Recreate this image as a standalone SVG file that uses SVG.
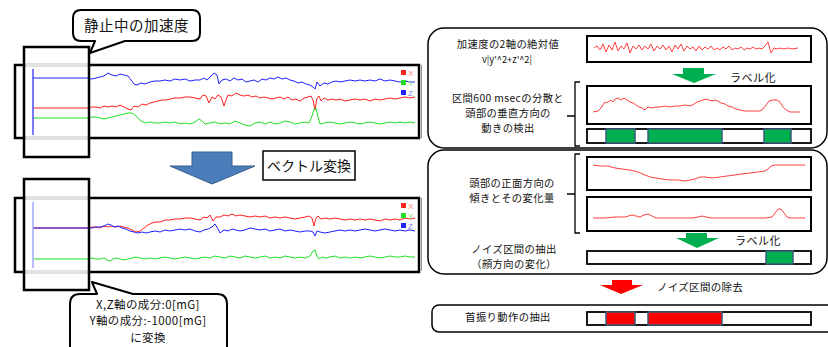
<svg xmlns="http://www.w3.org/2000/svg" width="828" height="347" viewBox="0 0 828 347">
<style>
text{font-family:"Noto Sans CJK JP","Liberation Sans",sans-serif;fill:#111}
.box{fill:#fff;stroke:#000;stroke-width:2.5}
.frame{fill:none;stroke:#000;stroke-width:2.5}
.call{fill:#fff;stroke:#000;stroke-width:2;stroke-linejoin:round}
.grp{fill:#fff;stroke:#000;stroke-width:1.5}
.cb{fill:#fff;stroke:#000;stroke-width:2}
.bar{fill:#fff;stroke:#000;stroke-width:1.8}
.tr{fill:none;stroke-width:1;stroke-linejoin:round}
.r{stroke:#ff2020}.g{stroke:#20e020}.b{stroke:#2020ff}
.rr{fill:none;stroke:#ff4040;stroke-width:1}
.seg{stroke:#3b5a7a;stroke-width:1.5}
.brace{fill:none;stroke:#000;stroke-width:1.3}
.lg{font-family:"Liberation Sans",sans-serif;font-size:8px}
.s{font-size:10.3px;letter-spacing:0.4px}
.cl{font-size:11.5px;letter-spacing:0.4px}
</style>

<g id="chart-top">
<rect x="15" y="65" width="404" height="73" class="box"/>
<polyline class="tr b" points="33,78 88,78 92,79 96,78 100,77 104,76 108,73 112,75 116,76 120,74 124,75 128,76 131,80 134,84 137,85 141,83 145,84 150,82 155,81 160,81 165,80 170,81 175,79 180,80 185,79 190,81 195,80 200,80 204,78 207,80 210,77 214,73 217,75 219,84 222,80 226,79 230,81 234,78 238,80 242,79 246,82 250,81 254,80 258,82 262,79 266,80 270,78 274,79 278,77 282,79 286,78 290,80 294,81 298,83 302,82 306,84 310,85 313,87 315,89 317,82 320,86 324,83 328,84 332,82 336,81 340,82 345,81 350,80 355,81 360,80 365,81 370,80 375,81 380,79 385,81 390,80 395,81 400,82 405,81 410,82 415,82"/>
<polyline class="tr r" points="33,108 88,108 92,107 96,107 100,108 104,106 108,107 112,106 116,107 120,105 124,107 128,109 131,110 134,106 138,107 142,104 146,105 150,103 154,102 158,101 162,100 166,100 170,99 175,98 180,98 185,97 190,97 195,98 200,99 203,95 206,96 209,103 212,97 215,99 218,95 221,97 224,106 226,100 228,95 232,96 236,93 240,95 244,96 248,95 252,97 256,96 260,98 264,97 268,98 272,99 276,98 280,97 284,99 288,97 292,100 296,99 300,101 304,98 308,97 311,96 313,100 315,110 317,98 319,96 321,101 324,98 328,100 332,99 336,100 340,99 345,101 350,100 355,99 360,100 365,99 370,101 375,99 380,100 385,99 390,98 395,99 400,98 405,97 410,98 415,97"/>
<polyline class="tr g" points="33,118 88,118 92,117 96,117 100,118 104,119 108,118 112,117 116,116 120,115 124,114 128,113 132,113 135,115 138,118 141,121 145,123 150,122 155,123 160,123 165,122 170,123 175,122 180,124 185,123 190,124 195,122 199,119 202,121 205,124 210,123 215,122 220,124 225,123 230,124 235,121 240,123 245,125 250,126 255,123 260,122 265,124 270,122 275,124 280,123 285,121 290,122 295,124 300,123 305,122 309,123 312,116 314,109 316,108 318,117 320,124 325,123 330,122 335,123 340,124 345,123 350,122 355,123 360,124 365,123 370,122 375,123 380,124 385,123 390,122 395,123 400,122 405,123 410,122 415,123"/>
<line x1="33" y1="69" x2="33" y2="135" stroke="#2020ff" stroke-width="1.2"/>
<rect x="401" y="70" width="5" height="5" fill="#ff2020"/><text x="408" y="75.5" class="lg" style="fill:#ff8080">X</text>
<rect x="401" y="80" width="5" height="5" fill="#20e020"/><text x="408" y="85.5" class="lg" style="fill:#80e080">Y</text>
<rect x="401" y="90" width="5" height="5" fill="#2020ff"/><text x="408" y="95.5" class="lg" style="fill:#8080ff">Z</text>
</g>

<g id="window-top">
<rect x="24" y="47" width="65" height="110" class="frame"/>
<line x1="25.5" y1="65" x2="87.5" y2="65" stroke="#fff" stroke-width="3"/>
<line x1="25.5" y1="65" x2="87.5" y2="65" stroke="#c8c8c8" stroke-width="1"/>
<line x1="25.5" y1="138" x2="87.5" y2="138" stroke="#fff" stroke-width="3"/>
<line x1="25.5" y1="138" x2="87.5" y2="138" stroke="#c8c8c8" stroke-width="1"/>
</g>

<g id="callout-top">
<path class="call" d="M81,10 H192 Q200,10 200,18 V33 Q200,41 192,41 H125 L90,53 L95,41 H81 Q73,41 73,33 V18 Q73,10 81,10 Z"/>
<text x="136.5" y="31" font-size="14.5" text-anchor="middle" letter-spacing="0.5">静止中の加速度</text>
</g>

<g id="arrow-vector">
<polygon points="192,152 232,152 232,166 255,166 212,184 170,166 192,166" fill="#4a7ebb" stroke="#385d8a" stroke-width="1"/>
</g>
<g id="label-vector">
<rect x="263" y="151" width="92" height="29" fill="#fff" stroke="#000" stroke-width="1.5"/>
<text x="309" y="170.5" font-size="14" text-anchor="middle">ベクトル変換</text>
</g>

<g id="chart-bottom">
<rect x="15" y="198" width="404" height="74" class="box"/>
<polyline class="tr r" points="33,228 88,228 92,227 96,227 100,228 104,226 108,227 112,226 116,227 120,226 124,227 128,228 132,230 136,232 140,231 144,228 148,225 152,223 156,222 160,222 165,220 170,220 175,219 180,219 185,218 190,218 195,219 200,220 204,217 207,218 210,215 213,221 216,217 220,217 224,215 228,216 232,214 236,216 240,215 245,216 250,217 255,216 260,217 265,216 270,218 275,217 280,218 285,217 290,218 295,219 300,218 305,217 309,216 312,218 314,226 316,218 318,216 321,219 325,218 330,219 335,218 340,219 345,220 350,219 355,220 360,219 365,220 370,219 375,220 380,221 385,219 390,220 395,219 400,220 405,218 410,219 415,218"/>
<polyline class="tr b" points="33,228 88,228 92,228 96,227 100,227 104,226 108,224 111,225 114,227 118,226 122,228 126,229 130,231 134,232 138,233 142,232 146,233 150,232 155,231 160,232 165,230 170,231 175,230 180,229 185,230 190,229 195,231 200,232 204,230 208,229 212,227 215,224 218,229 220,233 224,230 228,231 232,229 236,230 240,231 245,230 250,228 255,229 260,230 265,229 270,231 275,230 280,229 285,231 290,230 295,231 300,232 305,231 310,231 313,232 315,236 317,231 320,232 325,233 330,232 335,231 340,230 345,231 350,230 355,231 360,230 365,229 370,230 375,231 380,230 385,229 390,230 395,231 400,230 405,231 410,230 415,231"/>
<polyline class="tr g" points="33,259 88,259 92,258 96,259 100,259 104,258 107,260 110,261 113,259 116,258 120,259 124,260 128,259 132,258 136,257 140,258 145,259 150,258 155,259 160,258 165,257 170,258 175,259 180,258 185,257 190,258 195,259 200,258 205,257 210,258 215,256 220,257 225,258 230,256 235,257 240,258 245,256 250,257 255,258 260,257 265,256 270,258 275,257 280,258 285,256 290,257 295,258 300,257 305,258 310,256 313,251 315,250 317,256 319,259 322,257 326,258 330,257 335,256 340,258 345,257 350,258 355,257 360,258 365,257 370,256 375,257 380,258 385,257 390,256 395,257 400,257 405,256 410,257 415,257"/>
<line x1="33" y1="202" x2="33" y2="268" stroke="#a0a8ff" stroke-width="1.5"/>
<rect x="401" y="203" width="5" height="5" fill="#ff2020"/><text x="408" y="208.5" class="lg" style="fill:#ff8080">X</text>
<rect x="401" y="213" width="5" height="5" fill="#20e020"/><text x="408" y="218.5" class="lg" style="fill:#80e080">Y</text>
<rect x="401" y="223" width="5" height="5" fill="#2020ff"/><text x="408" y="228.5" class="lg" style="fill:#8080ff">Z</text>
</g>

<g id="window-bottom">
<rect x="24" y="179" width="65" height="111" class="frame"/>
<line x1="25.5" y1="198" x2="87.5" y2="198" stroke="#fff" stroke-width="3"/>
<line x1="25.5" y1="198" x2="87.5" y2="198" stroke="#c8c8c8" stroke-width="1"/>
<line x1="25.5" y1="272" x2="87.5" y2="272" stroke="#fff" stroke-width="3"/>
<line x1="25.5" y1="272" x2="87.5" y2="272" stroke="#c8c8c8" stroke-width="1"/>
</g>

<g id="callout-bottom">
<path class="call" d="M80,294 H97 L92,282 L133,294 H217 Q227,294 227,304 V352 H70 V304 Q70,294 80,294 Z"/>
<text x="148" y="308.5" class="cl" text-anchor="middle">X,Z軸の成分:0[mG]</text>
<text x="148" y="325.2" class="cl" text-anchor="middle">Y軸の成分:-1000[mG]</text>
<text x="148" y="341.9" class="cl" text-anchor="middle">に変換</text>
</g>

<g id="side-lines">
<line x1="421.5" y1="65" x2="421.5" y2="138" stroke="#999" stroke-width="1"/>
<line x1="421.5" y1="198" x2="421.5" y2="271" stroke="#999" stroke-width="1"/>
</g>

<g id="group-vertical">
<rect x="428" y="28" width="399" height="120" rx="16" class="grp"/>
<text x="508" y="48" class="s" text-anchor="middle">加速度の2軸の絶対値</text>
<text x="507" y="62.5" font-size="9.3" text-anchor="middle">v|y'^2+z'^2|</text>
<rect x="587" y="36" width="224" height="26" class="cb"/>
<polyline class="rr" points="594,48 597,46 600,50 603,44 606,52 609,45 612,50 615,42 618,51 621,46 624,49 627,43 630,53 633,46 636,49 639,45 642,50 645,46 648,49 651,44 654,51 657,46 660,49 663,45 666,50 669,46 672,52 675,45 678,49 681,44 684,51 687,46 690,49 693,47 696,51 699,46 702,50 705,47 708,49 711,46 714,50 717,48 720,50 723,47 726,49 729,46 732,50 735,48 738,49 741,47 744,50 747,48 750,49 753,47 756,49 759,48 762,49 765,46 768,42 771,53 774,48 777,49 780,48 784,49 788,48 792,49 798,48"/>
<text x="508" y="102" class="s" text-anchor="middle">区間600 msecの分散と</text>
<text x="508" y="117" class="s" text-anchor="middle">頭部の垂直方向の</text>
<text x="508" y="132" class="s" text-anchor="middle">動きの検出</text>
<path class="brace" d="M580,82 H575 V146 H580 M567,116 H575"/>
<rect x="587" y="86" width="224" height="38" class="cb"/>
<polyline class="rr" points="593,112 598,111 601,108 604,103 608,102 611,100 613,102 615,99 618,98 621,100 624,98 627,100 630,102 633,103 636,105 639,107 642,108 645,110 648,107 652,108 656,107 660,107 665,106 670,107 675,106 680,106 685,105 690,106 694,104 697,102 700,101 703,100 706,99 709,100 712,101 715,100 718,101 721,103 725,104 728,106 732,107 736,109 740,110 745,111 750,111 755,111 760,111 763,109 766,105 769,101 773,100 777,100 780,102 783,107 786,110 790,112 795,112 800,112"/>
<rect x="587" y="129" width="224" height="14" class="bar"/>
<rect x="606" y="129" width="29" height="14" fill="#00b050" class="seg"/>
<rect x="648" y="129" width="74" height="14" fill="#00b050" class="seg"/>
<rect x="764" y="129" width="27" height="14" fill="#00b050" class="seg"/>
</g>

<g id="arrow-label1">
<polygon points="683,68 704,68 704,74 716,74 694,83 672,74 683,74" fill="#00b050"/>
<text x="730" y="81.5" font-size="11" letter-spacing="0.5">ラベル化</text>
</g>

<g id="group-noise">
<rect x="428" y="150" width="399" height="124" rx="16" class="grp"/>
<text x="512" y="187" class="s" text-anchor="middle">頭部の正面方向の</text>
<text x="512" y="202" class="s" text-anchor="middle">傾きとその変化量</text>
<path class="brace" d="M580,154 H575 V233 H580 M567,194 H575"/>
<rect x="587" y="157" width="224" height="33" class="cb"/>
<polyline class="rr" points="593,165 600,166 608,166 615,168 622,169 630,170 638,172 645,175 650,177 656,178 662,179 670,180 678,180 685,181 690,180 695,179 700,177 705,177 712,178 720,177 727,176 735,175 742,174 750,173 758,172 765,171 768,169 771,166 775,165 782,165 790,165 798,165 805,165"/>
<rect x="587" y="197" width="224" height="34" class="cb"/>
<polyline class="rr" points="593,218 605,218 615,217 625,217 632,215 636,216 640,217 644,215 648,214 652,216 656,218 665,218 680,218 692,218 698,217 702,216 706,217 712,218 730,218 750,218 765,218 772,217 775,213 778,209 781,209 784,213 787,217 790,218 798,218 805,218"/>
<text x="514" y="253" class="s" text-anchor="middle">ノイズ区間の抽出</text>
<text x="514" y="268" class="s" text-anchor="middle">（顔方向の変化）</text>
<rect x="587" y="251" width="224" height="13" class="bar"/>
<rect x="766" y="251" width="27" height="13" fill="#00b050" class="seg"/>
</g>

<g id="arrow-label2">
<polygon points="686,233 707,233 707,238 719,238 697,248 676,238 686,238" fill="#00b050"/>
<text x="735" y="244.5" font-size="11" letter-spacing="0.5">ラベル化</text>
</g>

<g id="arrow-remove">
<polygon points="612,280 632,280 632,285 643,285 621,294 600,285 612,285" fill="#ff0000"/>
<text x="657" y="291" font-size="10.5" letter-spacing="0.3">ノイズ区間の除去</text>
</g>

<g id="group-nod">
<rect x="432" y="305" width="404" height="27" rx="7" class="grp"/>
<text x="508" y="321" class="s" text-anchor="middle">首振り動作の抽出</text>
<rect x="587" y="312" width="224" height="13" class="bar"/>
<rect x="606" y="312" width="29" height="13" fill="#ff0000" class="seg"/>
<rect x="648" y="312" width="74" height="13" fill="#ff0000" class="seg"/>
</g>
</svg>
